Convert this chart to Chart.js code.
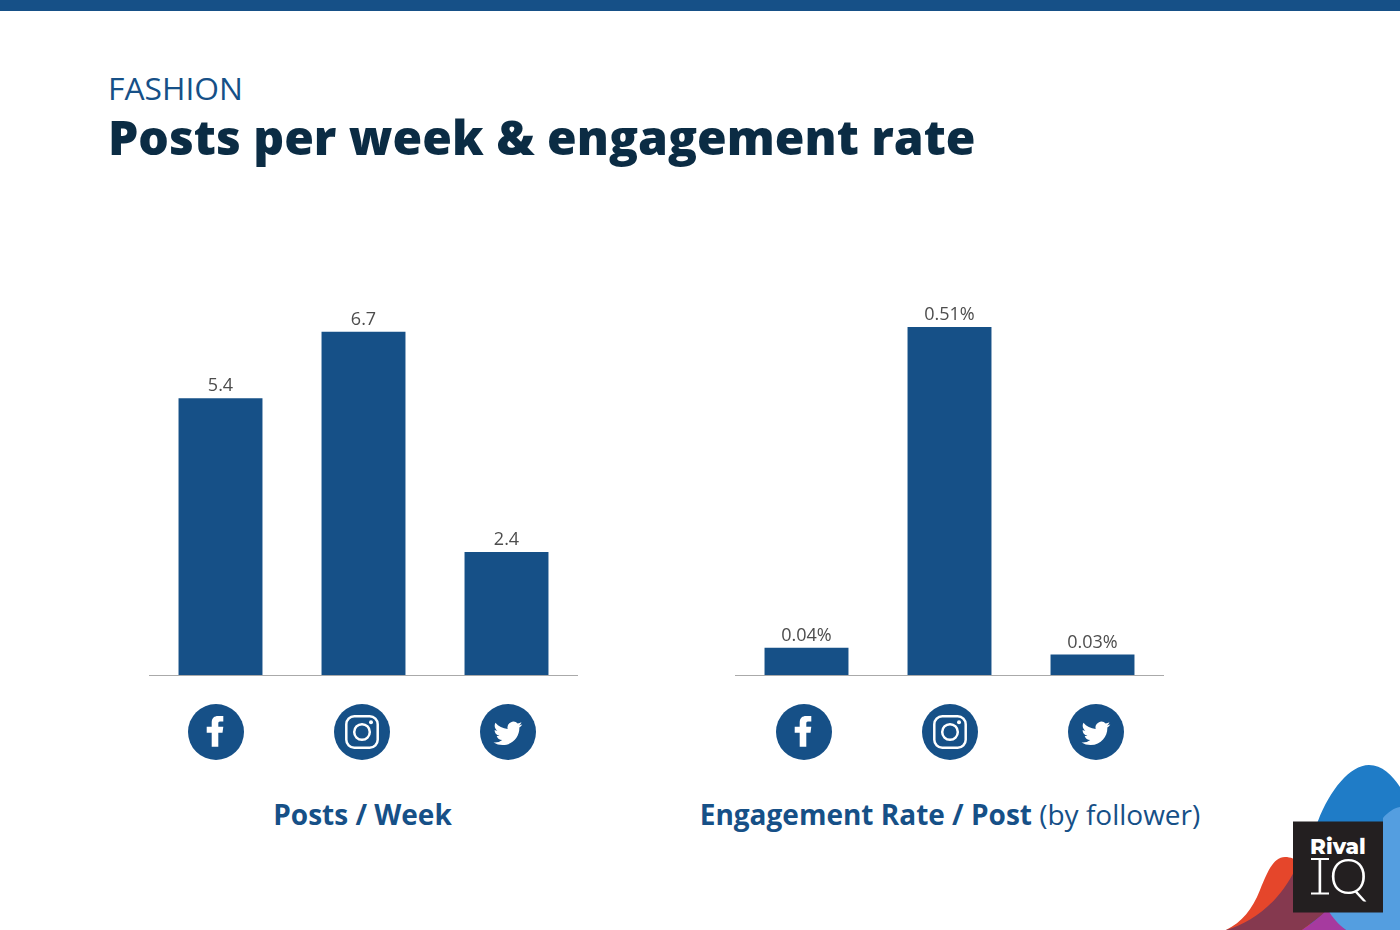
<!DOCTYPE html>
<html>
<head>
<meta charset="utf-8">
<title>Posts per week & engagement rate</title>
<script src="https://cdn.jsdelivr.net/npm/chart.js@4"></script>
<style>
    html, body { margin: 0; padding: 0; background: #fff; }
    body { position: relative; width: 1400px; height: 930px; overflow: hidden; font-family: "Open Sans", sans-serif; }
    .topbar { position: absolute; left: 0; top: 0; width: 1400px; height: 11px; background: #165087; }
    .text { position: absolute; white-space: nowrap; }
    #kicker { left: 108px; top: 66px; font-size: 31.8px; line-height: 44px; color: #165087; }
    #title { left: 108px; top: 105px; font-size: 48.05px; line-height: 64px; font-weight: 800; color: #0b2c44; }
    .caption { top: 795px; font-size: 28px; line-height: 38px; color: #165087; transform: translateX(-50%); }
    .caption b { font-weight: 700; }
    #captionLeft { left: 362.5px; }
    #captionRight { left: 950px; }
    .chartBox { position: absolute; top: 280px; width: 429px; height: 396px; }
    #boxLeft { left: 148.7px; }
    #boxRight { left: 735.3px; }
    .icon { position: absolute; top: 704px; width: 56px; height: 56px; }
    #logo { position: absolute; left: 1200px; top: 750px; }
</style>
</head>
<body>
<div class="topbar"></div>
<div class="text" id="kicker">FASHION</div>
<div class="text" id="title">Posts per week &amp; engagement rate</div>

<div class="chartBox" id="boxLeft"><canvas id="postsChart"></canvas></div>
<div class="chartBox" id="boxRight"><canvas id="engagementChart"></canvas></div>

<svg width="0" height="0" style="position:absolute">
    <symbol id="facebook" viewBox="0 0 56 56">
        <circle cx="28" cy="28" r="28" fill="#165087"/>
        <path fill="#fff" d="M23.700 42.700V28.700H18.700V22.700H23.700V18.500C23.700 14 26.500 12 30 12H35.300V17.500H32C30.700 17.500 30.300 18.200 30.300 19.500V22.700H35.300L34.500 28.700H30.300V42.700z"/>
    </symbol>
    <symbol id="instagram" viewBox="0 0 56 56">
        <circle cx="28" cy="28" r="28" fill="#165087"/>
        <rect x="12.300" y="12.300" width="31.400" height="31.400" rx="8" fill="none" stroke="#fff" stroke-width="2.500"/>
        <circle cx="28" cy="28" r="7.800" fill="none" stroke="#fff" stroke-width="2.500"/>
        <circle cx="37" cy="18.300" r="2" fill="#fff"/>
    </symbol>
    <symbol id="twitter" viewBox="0 0 56 56">
        <circle cx="28" cy="28" r="28" fill="#165087"/>
        <g transform="translate(13.500 15) scale(1.200)">
            <path fill="#fff" d="M23.953 4.57a10 10 0 01-2.825.775 4.958 4.958 0 002.163-2.723c-.951.555-2.005.959-3.127 1.184a4.92 4.92 0 00-8.384 4.482C7.69 8.095 4.067 6.13 1.64 3.162a4.822 4.822 0 00-.666 2.475c0 1.71.87 3.213 2.188 4.096a4.904 4.904 0 01-2.228-.616v.06a4.923 4.923 0 003.946 4.827 4.996 4.996 0 01-2.212.085 4.936 4.936 0 004.604 3.417 9.867 9.867 0 01-6.102 2.105c-.39 0-.779-.023-1.17-.067a13.995 13.995 0 007.557 2.209c9.053 0 13.998-7.496 13.998-13.985 0-.21 0-.42-.015-.63A9.935 9.935 0 0024 4.59z"/>
        </g>
    </symbol>
</svg>
<svg class="icon" style="left:188px"><use href="#facebook"/></svg>
<svg class="icon" style="left:334px"><use href="#instagram"/></svg>
<svg class="icon" style="left:480px"><use href="#twitter"/></svg>
<svg class="icon" style="left:776px"><use href="#facebook"/></svg>
<svg class="icon" style="left:922px"><use href="#instagram"/></svg>
<svg class="icon" style="left:1068px"><use href="#twitter"/></svg>

<div class="text caption" id="captionLeft"><b>Posts / Week</b></div>
<div class="text caption" id="captionRight"><b>Engagement Rate / Post</b> (by follower)</div>

<!-- logo corner, coordinates are relative to 1200,750 -->
<svg id="logo" width="200" height="180" viewBox="0 0 200 180">
    <path fill="#1f7cc7" d="M105 100L118 71C130 40 150 15 169 15C182 15 192 25 200 37V180H105z"/>
    <path fill="#549ee0" d="M183 68C188 62 194 58 200 57V180H146C132 172 124 163 118 150L183 120z"/>
    <path fill="#e5462b" d="M26 180C42 172 52 160 60 140C68 120 74 107 85 107C96 107 105 115 110 135V180z"/>
    <path fill="#85394f" d="M26 180C55 172 80 150 95 120L125 163L102 180z"/>
    <path fill="#a63a9f" d="M102 180C112 173 120 167 127 160L128 160C133 168 138 174 146 180z"/>
    <rect x="93" y="71.500" width="90" height="91" fill="#231f20"/>
    <text x="110" y="103.500" font-family="Montserrat, 'Open Sans', sans-serif" font-size="21.500" font-weight="800" fill="#fff">Rival</text>
    <text x="120" y="144" text-anchor="middle" font-family="Lato, sans-serif" font-size="49" font-weight="300" fill="#fff">I</text>
    <path d="M111 109H129M111 143.500H129" stroke="#fff" stroke-width="1.800" fill="none"/>
    <text x="129" y="143.500" font-family="Lato, sans-serif" font-size="49" font-weight="300" fill="#fff">Q</text>
</svg>

<script>
console.log("chart page loaded");

/* Data */
const platforms = ["Facebook", "Instagram", "Twitter"];
const postsPerWeek = [5.4, 6.7, 2.4];
const postsLabels = ["5.4", "6.7", "2.4"];
const engagementRate = [0.04, 0.51, 0.03];
const engagementLabels = ["0.04%", "0.51%", "0.03%"];

const barColor = "#165087";

/* Value labels above the bars */
const valueLabelPlugin = {
    id: "valueLabels",
    afterDatasetsDraw(chart, args, opts) {
        const ctx = chart.ctx;
        const meta = chart.getDatasetMeta(0);
        ctx.save();
        ctx.font = '18px "Open Sans"';
        ctx.fillStyle = "#4d4d4d";
        ctx.textAlign = "center";
        ctx.textBaseline = "alphabetic";
        meta.data.forEach((bar, i) => {
            ctx.fillText(opts.labels[i], bar.x, bar.y - 7);
        });
        ctx.restore();
    }
};

function drawBars(id, values, labels, yMax) {
    const el = document.getElementById(id);
    if (!el) {
        console.error(`Canvas "${id}" not found.`);
        return;
    }
    new Chart(el, {
        type: "bar",
        data: {
            labels: platforms,
            datasets: [{
                data: values,
                backgroundColor: barColor,
                barPercentage: 0.587,
                categoryPercentage: 1,
            }]
        },
        options: {
            responsive: true,
            maintainAspectRatio: false,
            animation: false,
            layout: { padding: { bottom: 1 } },
            plugins: {
                legend: { display: false },
                title: { display: false },
                tooltip: { enabled: false },
                valueLabels: { labels: labels },
            },
            scales: {
                x: {
                    grid: { display: false, drawTicks: false },
                    border: { color: "#aaaaaa", width: 1, z: 1 },
                    ticks: { display: false },
                },
                y: {
                    display: false,
                    min: 0,
                    max: yMax,
                }
            }
        },
        plugins: [valueLabelPlugin],
    });
}

drawBars("postsChart", postsPerWeek, postsLabels, 7.71);
drawBars("engagementChart", engagementRate, engagementLabels, 0.579);
</script>
</body>
</html>
